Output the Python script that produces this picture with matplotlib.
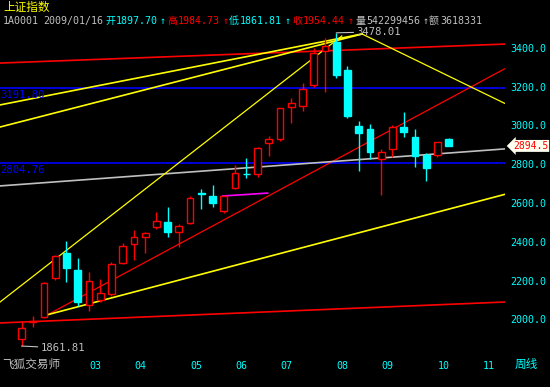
import numpy as np
import matplotlib
matplotlib.use("Agg")
import matplotlib.pyplot as plt
from matplotlib.patches import Rectangle

plt.rcParams['font.family'] = ['DejaVu Sans Mono', 'Noto Sans CJK SC']

# weekly candles, 2009/01/16 onwards
opens = [1897.70, 1986, 2012, 2213, 2342, 2254, 2074, 2099, 2130, 2290, 2388, 2425, 2476,
         2502, 2450, 2497, 2649, 2636, 2559, 2677, 2752, 2750, 2910, 2930, 3095, 3100,
         3209, 3384, 3431, 3286, 2997, 2982, 2827, 2879, 2992, 2941, 2848, 2848, 2930]
highs = [1984.73, 2017, 2192, 2330, 2404, 2316, 2244, 2208, 2296, 2394, 2461, 2450, 2554,
         2579, 2492, 2636, 2672, 2693, 2638, 2796, 2832, 2889, 2946, 3092, 3142, 3219,
         3400, 3451, 3478.01, 3307, 3023, 3008, 2879, 3002, 3070, 2982, 2858, 2917, 2935]
lows = [1861.81, 1960, 2007, 2203, 2192, 2068, 2043, 2089, 2120, 2285, 2306, 2342, 2466,
        2425, 2373, 2492, 2569, 2579, 2548, 2674, 2729, 2734, 2842, 2920, 3013, 3075,
        3199, 3173, 3245, 3039, 2765, 2827, 2641, 2837, 2941, 2786, 2713, 2837, 2893]
closes = [1954.44, 1991, 2187, 2326, 2265, 2089, 2197, 2136, 2285, 2378, 2425, 2445, 2507,
          2450, 2481, 2626, 2644, 2600, 2636, 2755, 2747, 2884, 2930, 3090, 3116, 3188,
          3374, 3410, 3260, 3049, 2961, 2863, 2863, 2992, 2966, 2842, 2781, 2915, 2894.5]

month_ticks = [6, 10, 15, 19, 23, 28, 32, 37, 41]
month_labels = ['03', '04', '05', '06', '07', '08', '09', '10', '11']
price_ticks = [2000, 2200, 2400, 2600, 2800, 3000, 3200, 3400]

# drawn lines (candle index, price)
red_top_x, red_top_y = [-1.91, 43.0], [3322, 3420]
red_bot_x, red_bot_y = [-1.91, 43.0], [1981, 2089]
red_diag_x, red_diag_y = [1.9, 43.1], [2010, 3296]
yel_steep_x, yel_steep_y = [-1.91, 28.5], [2089, 3462]
yel_a_x, yel_a_y = [-1.91, 30.3], [3106, 3472]
yel_b_x, yel_b_y = [-1.91, 30.3], [2992, 3472]
yel_down_x, yel_down_y = [30.3, 43.1], [3472, 3111]
yel_low_x, yel_low_y = [1.9, 43.1], [2017, 2646]
gray_x, gray_y = [-1.91, 43.0], [2688, 2879]
mag_x, mag_y = [17.9, 21.9], [2636, 2651]
blue_levels = [3191.80, 2804.76]

RED = '#ff0000'
CYAN = '#00ffff'
YEL = '#ffff00'
BLUE = '#0000ff'
GRAY = '#c0c0c0'
W, H = 550, 387

fig = plt.figure(figsize=(5.5, 3.87), dpi=100, facecolor='black')
ax = fig.add_axes([0, 1 - 355 / H, 505 / W, (355 - 28) / H])
ax.set_facecolor('black')
ax.set_xlim(-1.913, 43.016)
ax.set_ylim(1815.6, 3502.9)
for s in ax.spines.values():
    s.set_visible(False)

for lv in blue_levels:
    ax.axhline(lv, color=BLUE, lw=1.2)
    ax.text(-1.9, lv - 8, f'{lv:.2f}', color=BLUE, fontsize=7.6, va='top', ha='left')

ax.plot(red_top_x, red_top_y, color=RED, lw=1.2)
ax.plot(red_bot_x, red_bot_y, color=RED, lw=1.2)
ax.plot(red_diag_x, red_diag_y, color=RED, lw=0.9)
ax.plot(gray_x, gray_y, color=GRAY, lw=1.2)
ax.plot(mag_x, mag_y, color='#ff00ff', lw=1.2)
for xs, ys, w in [(yel_steep_x, yel_steep_y, 0.9), (yel_a_x, yel_a_y, 1.2),
                  (yel_b_x, yel_b_y, 1.2), (yel_down_x, yel_down_y, 0.9),
                  (yel_low_x, yel_low_y, 1.2)]:
    ax.plot(xs, ys, color=YEL, lw=w)

bw = 0.6
for i, (o, h, l, c) in enumerate(zip(opens, highs, lows, closes)):
    up = c >= o
    col = RED if up else CYAN
    top, bot = max(o, c), min(o, c)
    ax.vlines(i, top, h, color=col, lw=1)
    ax.vlines(i, l, bot, color=col, lw=1)
    ax.add_patch(Rectangle((i - bw / 2, bot), bw, max(top - bot, 5),
                           facecolor='black' if up else CYAN, edgecolor=col, lw=1, zorder=3))

ax.annotate('3478.01', xy=(28, 3478.01), xytext=(20, 1), textcoords='offset pixels',
            color=GRAY, fontsize=7.6, va='center', ha='left',
            arrowprops=dict(arrowstyle='-', color=GRAY, lw=0.8, shrinkA=0, shrinkB=0))
ax.annotate('1861.81', xy=(0, 1861.81), xytext=(19, -2), textcoords='offset pixels',
            color=GRAY, fontsize=7.6, va='center', ha='left',
            arrowprops=dict(arrowstyle='-', color=GRAY, lw=0.8, shrinkA=0, shrinkB=0))

ax.annotate(f'{closes[-1]:.1f}', xy=(1, closes[-1]), xycoords=('axes fraction', 'data'),
            xytext=(8, 0), textcoords='offset pixels', color=RED, fontsize=7.0,
            va='center', ha='left', annotation_clip=False,
            bbox=dict(boxstyle='larrow,pad=0.1', fc='#fffff0', ec='none'))

ax.yaxis.tick_right()
ax.set_yticks(price_ticks)
ax.set_yticklabels([f'{v:.1f}' for v in price_ticks])
ax.tick_params(axis='y', length=0, pad=4, labelcolor=CYAN, labelsize=7.2)
ax.set_xticks(month_ticks)
ax.set_xticklabels(month_labels, ha='left')
ax.tick_params(axis='x', length=0, pad=4, labelcolor=CYAN, labelsize=7.2)

def ftext(x, y, s, color, size=7.2):
    fig.text(x / W, 1 - y / H, s, color=color, fontsize=size, ha='left', va='center')

ftext(3, 7, '上证指数', YEL, 8.4)
header = [(3, '1A0001', GRAY), (43, '2009/01/16', GRAY),
          (105, '开', CYAN), (116, '1897.70', CYAN), (160, '↑', CYAN),
          (167, '高', RED), (178, '1984.73', RED), (223, '↑', RED),
          (229, '低', CYAN), (240, '1861.81', CYAN), (285, '↑', CYAN),
          (292, '收', RED), (303, '1954.44', RED), (348, '↑', RED),
          (355, '量', GRAY), (366, '542299456', GRAY), (423, '↑', GRAY),
          (429, '额', GRAY), (440, '3618331', GRAY)]
for x, s, c in header:
    ftext(x, 21, s, c)
ftext(2, 364, '飞狐交易师', GRAY, 8.4)
ftext(515, 364, '周线', CYAN, 8.4)

fig.savefig('out.png', dpi=100, facecolor='black')
